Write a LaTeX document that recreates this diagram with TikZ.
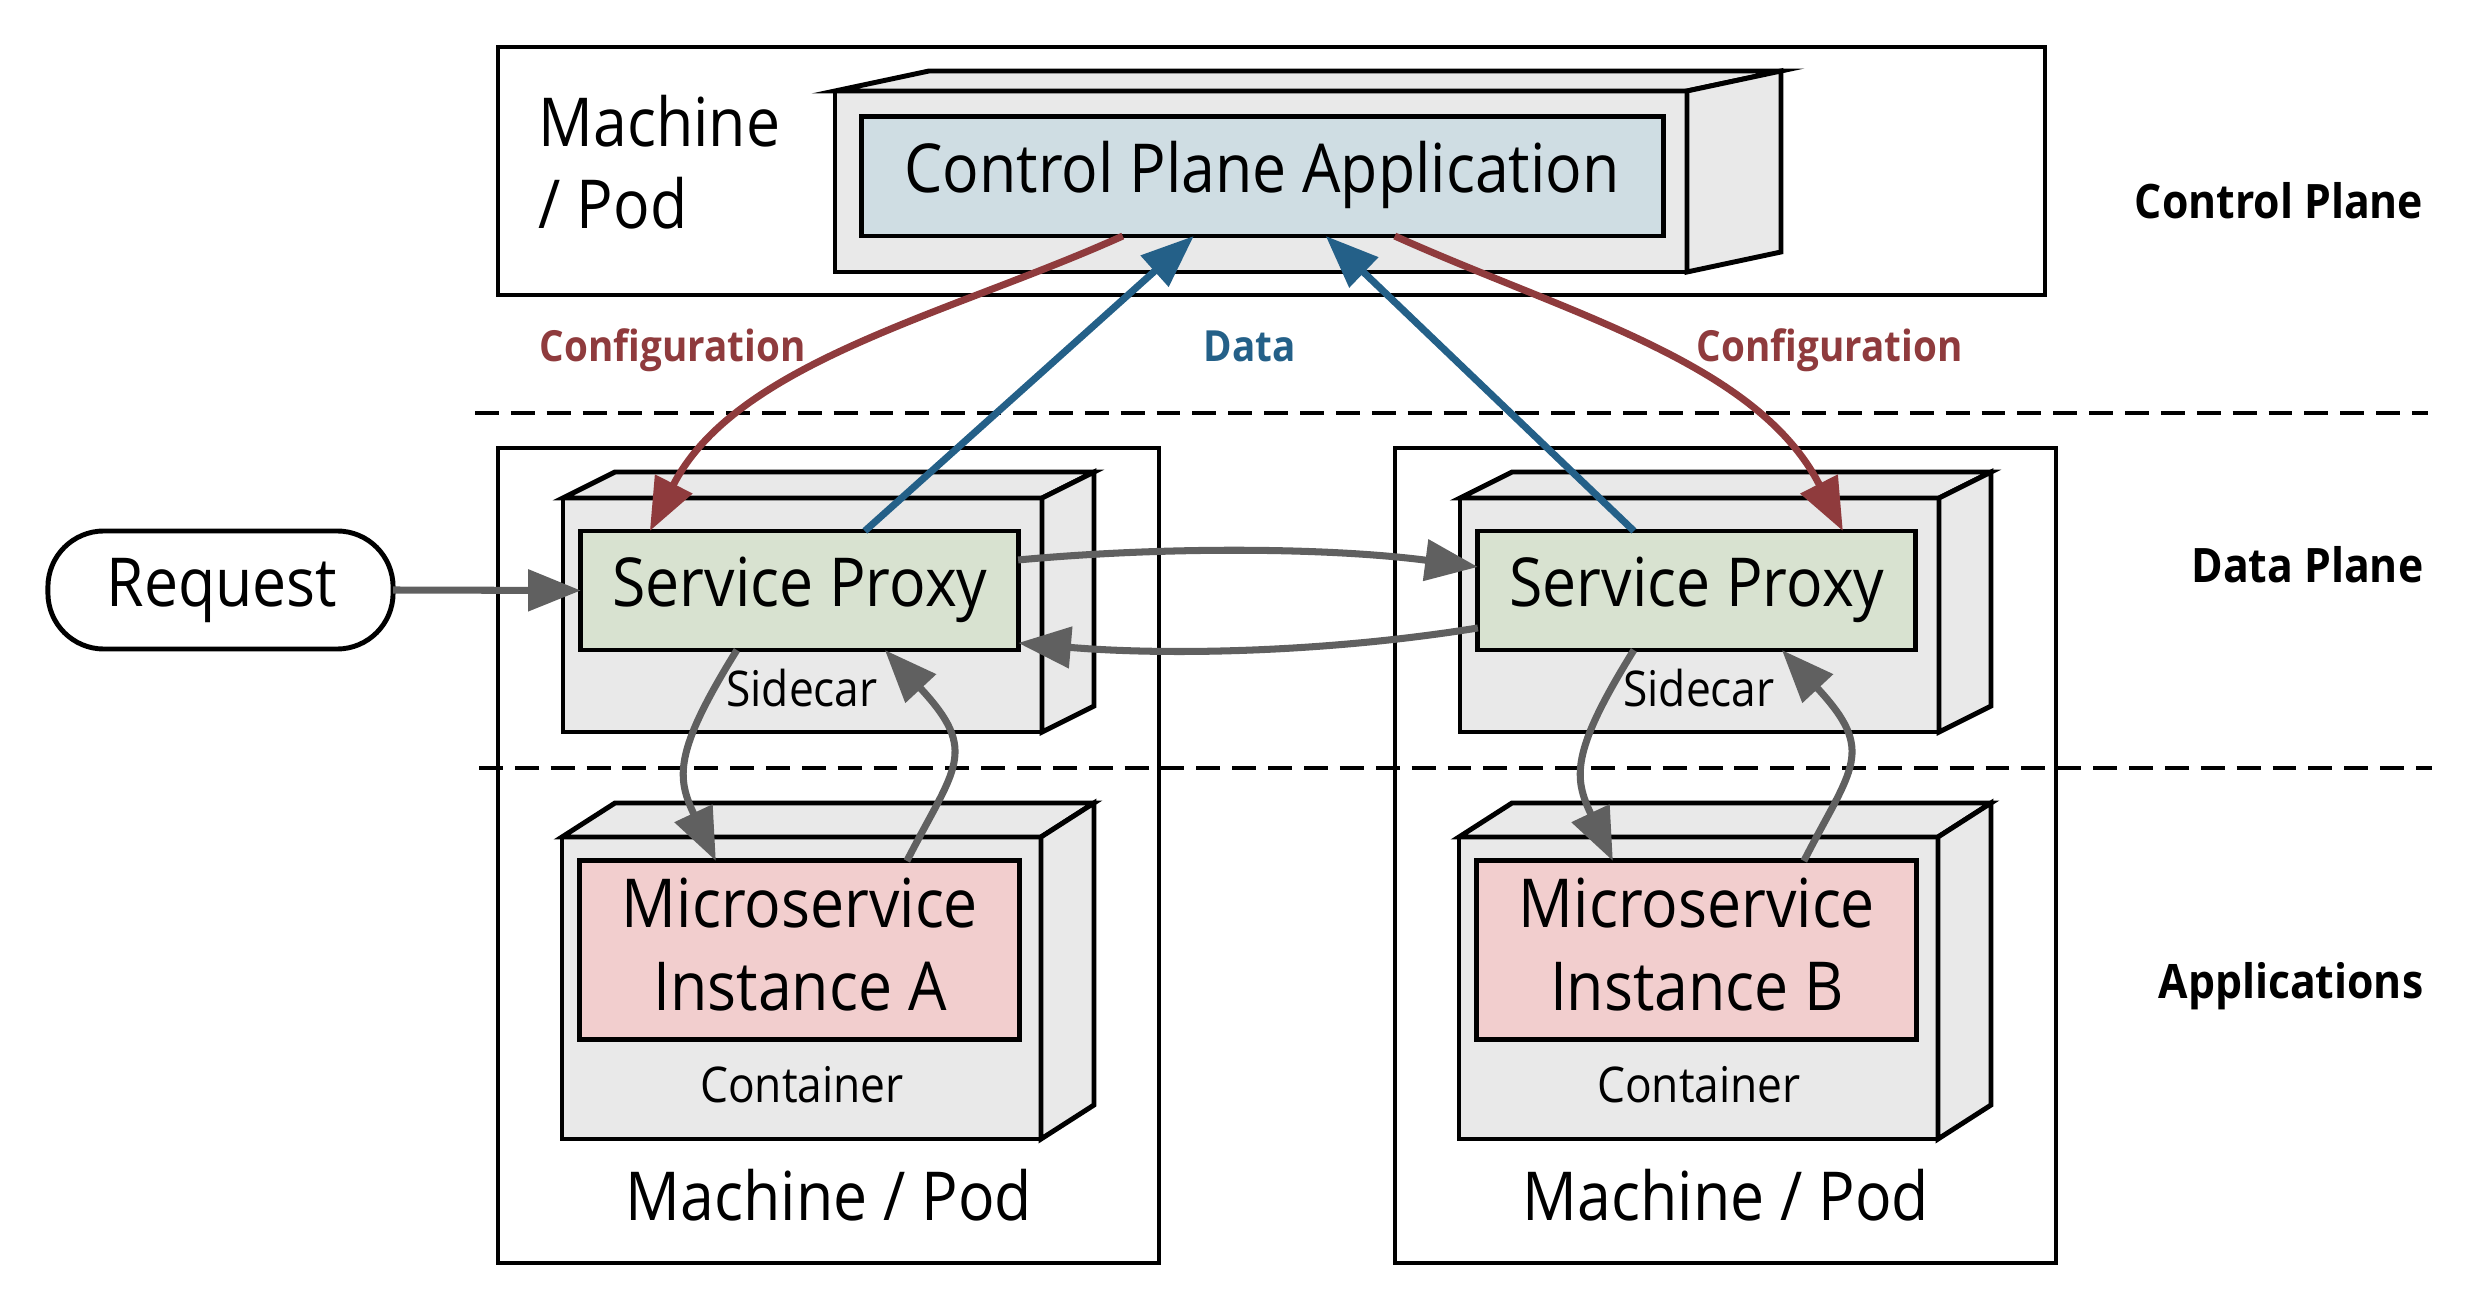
\documentclass[tikz,border=0pt]{standalone}
\usepackage{fontspec}
\setmainfont{Open Sans}[FakeStretch=0.9]
\usetikzlibrary{arrows.meta,calc}
\definecolor{cfgred}{HTML}{8F3B3D}
\definecolor{datablue}{HTML}{246088}
\definecolor{arrowgray}{HTML}{606060}
\definecolor{cubegray}{HTML}{E9E9E9}
\definecolor{cpfill}{HTML}{CFDDE3}
\definecolor{spfill}{HTML}{D8E2D0}
\definecolor{msfill}{HTML}{F2CECE}
\newcommand\mycube[6]{%
  \filldraw[cubeline] (#1,#2) rectangle (#3,#4);
  \filldraw[cubeline] (#1,#2) -- (#1+#5,#2-#6) -- (#3+#5,#2-#6) -- (#3,#2) -- cycle;
  \filldraw[cubeline] (#3,#2) -- (#3+#5,#2-#6) -- (#3+#5,#4-#6) -- (#3,#4) -- cycle;}
\begin{document}
\begin{tikzpicture}[x=0.01cm,y=-0.01cm,
  outerbox/.style={draw=black,line width=1.1pt},
  cubeline/.style={draw=black,fill=cubegray,line width=1.4pt,line join=miter},
  innerbox/.style={draw=black,line width=1.4pt,inner sep=0pt,outer sep=0pt},
  divider/.style={draw=black,line width=1.4pt,dash pattern=on 6.8pt off 3.4pt},
  bigtxt/.style={font=\fontsize{19.2}{23}\selectfont,anchor=base,inner sep=0pt},
  smalltxt/.style={font=\fontsize{14}{17}\selectfont,anchor=base,inner sep=0pt},
  planelbl/.style={font=\bfseries\fontsize{13.5}{17}\selectfont,anchor=base east,inner sep=0pt},
  flowlbl/.style={font=\bfseries\fontsize{12.2}{15}\selectfont,anchor=base west,inner sep=0pt},
  tip/.style={-{Triangle[length=15pt,width=11.5pt]}},
  cfgarrow/.style={tip,draw=cfgred,line width=2pt},
  dataarrow/.style={tip,draw=datablue,line width=2pt},
  grayarrow/.style={tip,draw=arrowgray,line width=2pt},
]
\useasboundingbox (0,0) rectangle (2488,1313);
% outer machine / pod boxes
\draw[outerbox] (498,47) rectangle (2045,295);
\draw[outerbox] (498,448) rectangle (1159,1263);
\draw[outerbox] (1395,448) rectangle (2056,1263);
% dividers
\coordinate (d1a) at (475,413); \coordinate (d1b) at (2428,413);
\coordinate (d2a) at (479,768); \coordinate (d2b) at (2432,768);
\draw[divider] (d1a) -- (d1b);
\draw[divider] (d2a) -- (d2b);
% cubes
\mycube{835}{91}{1687}{272}{94}{20}
\mycube{563}{498}{1042}{732}{52}{26}
\mycube{562}{837}{1041}{1139}{53}{34}
\mycube{1460}{498}{1939}{732}{52}{26}
\mycube{1459}{837}{1938}{1139}{53}{34}
% inner boxes
\node[innerbox,fill=cpfill,minimum width=8.01cm,minimum height=1.19cm] (cp) at (1262.5,176.5) {};
\node[innerbox,fill=spfill,minimum width=4.37cm,minimum height=1.19cm] (sp1) at (799.5,590.5) {};
\node[innerbox,fill=spfill,minimum width=4.37cm,minimum height=1.19cm] (sp2) at (1696.5,590.5) {};
\node[innerbox,fill=msfill,minimum width=4.39cm,minimum height=1.78cm] (ms1) at (799.5,950) {};
\node[innerbox,fill=msfill,minimum width=4.39cm,minimum height=1.78cm] (ms2) at (1696.5,950) {};
\node[draw=black,line width=1.4pt,fill=white,rounded corners=0.56cm,minimum width=3.45cm,minimum height=1.18cm,inner sep=0pt,outer sep=0pt] (req) at (220.5,590) {};
% texts
\node[bigtxt,anchor=base west] (tm1) at (538,147) {Machine};
\node[bigtxt,anchor=base west] (tm2) at (538,229) {/ Pod};
\node[bigtxt] (tcp) at (1262,193) {Control Plane Application};
\node[bigtxt] (treq) at (222,607) {Request};
\node[bigtxt] (tsp1) at (800,607) {Service Proxy};
\node[bigtxt] (tsp2) at (1697,607) {Service Proxy};
\node[smalltxt] (tsc1) at (802,706) {Sidecar};
\node[smalltxt] (tsc2) at (1699,706) {Sidecar};
\node[bigtxt] (tmsa1) at (800,927) {Microservice};
\node[bigtxt] (tmsa2) at (800,1010) {Instance A};
\node[bigtxt] (tmsb1) at (1697,927) {Microservice};
\node[bigtxt] (tmsb2) at (1697,1010) {Instance B};
\node[smalltxt] (tct1) at (802,1102) {Container};
\node[smalltxt] (tct2) at (1699,1102) {Container};
\node[bigtxt] (tpod1) at (829,1220) {Machine / Pod};
\node[bigtxt] (tpod2) at (1726,1220) {Machine / Pod};
\node[planelbl] (lcp) at (2424,219) {Control Plane};
\node[planelbl] (ldp) at (2424,583) {Data Plane};
\node[planelbl] (lap) at (2424,998) {Applications};
\node[flowlbl,text=cfgred] (lcfg1) at (539,362) {Configuration};
\node[flowlbl,text=datablue] (ldata) at (1203,362) {Data};
\node[flowlbl,text=cfgred] (lcfg2) at (1696,362) {Configuration};
% connectors
\draw[cfgarrow] ($(cp.south west)+(261,0)$) .. controls +(-173,78) and +(86,-169) .. ($(sp1.north west)+(69,0)$);
\draw[cfgarrow] ($(cp.south west)+(533,0)$) .. controls +(173,78) and +(-86,-169) .. ($(sp2.north west)+(365,0)$);
\draw[dataarrow] ($(sp1.north west)+(284,0)$) -- ($(cp.south west)+(332,0)$);
\draw[dataarrow] ($(sp2.north west)+(156,0)$) -- ($(cp.south west)+(464,0)$);
\draw[grayarrow] (req.east) -- (sp1.west);
\draw[grayarrow] ($(sp1.north east)+(0,29)$) .. controls +(152,-14) and +(-146,-19) .. ($(sp2.north west)+(0,36)$);
\draw[grayarrow] ($(sp2.north west)+(0,97)$) .. controls +(-148,24) and +(152,13) .. ($(sp1.north east)+(0,112)$);
\draw[grayarrow] ($(sp1.south west)+(156,0)$) .. controls +(-64,103) and +(-39,-83) .. ($(ms1.north west)+(136,0)$);
\draw[grayarrow] ($(ms1.north west)+(327,0)$) .. controls +(48,-94) and +(95,102) .. ($(sp1.south west)+(304,0)$);
\draw[grayarrow] ($(sp2.south west)+(156,0)$) .. controls +(-64,103) and +(-39,-83) .. ($(ms2.north west)+(136,0)$);
\draw[grayarrow] ($(ms2.north west)+(327,0)$) .. controls +(48,-94) and +(95,102) .. ($(sp2.south west)+(304,0)$);
\end{tikzpicture}
\end{document}
